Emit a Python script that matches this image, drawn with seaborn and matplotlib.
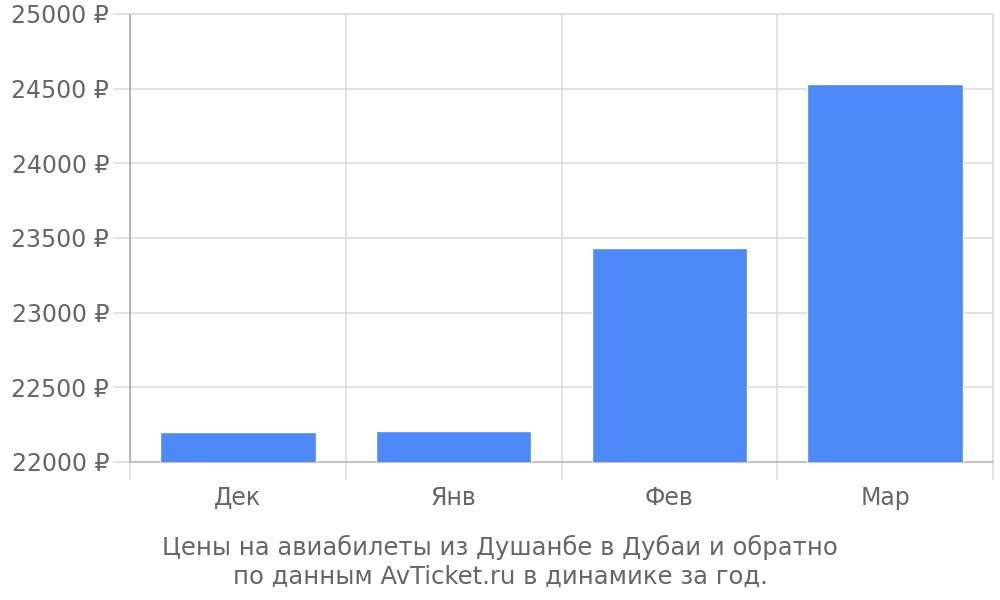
import seaborn as sns
import matplotlib.pyplot as plt
from matplotlib.ticker import FixedLocator

months = ["Дек", "Янв", "Фев", "Мар"]
prices = [22200, 22205, 23430, 24530]
y_ticks = [22000, 22500, 23000, 23500, 24000, 24500, 25000]
caption = "Цены на авиабилеты из Душанбе в Дубаи и обратно\nпо данным AvTicket.ru в динамике за год."

sns.set_style("white")
plt.rcParams["font.family"] = ["DejaVu Sans"]

text_color = "#666666"
grid_color = "#dddddd"

fig = plt.figure(figsize=(10, 6), dpi=100)
ax = fig.add_axes([0.13, 0.23, 0.863, 0.7467])

sns.barplot(x=months, y=prices, color="#4d89f9", saturation=1, width=0.72, ax=ax, zorder=3)

ax.set_ylim(22000, 25000)
ax.set_xlim(-0.5, len(months) - 0.5)
ax.set_yticks(y_ticks)
ax.set_yticklabels([f"{v} ₽" for v in y_ticks])

# category borders as minor ticks + grid (tick lengths in points)
ax.xaxis.set_minor_locator(FixedLocator([i - 0.5 for i in range(len(months) + 1)]))
ax.tick_params(which="both", bottom=True, left=True)
ax.tick_params(axis="x", which="major", length=0, pad=17, labelsize=17, labelcolor=text_color)
ax.tick_params(axis="x", which="minor", direction="out", length=13, width=1.2, color=grid_color)
ax.tick_params(axis="y", which="major", direction="out", length=12.5, width=1.2, color=grid_color,
               pad=2.5, labelsize=17, labelcolor=text_color)
ax.grid(axis="x", which="minor", color=grid_color, linewidth=1.2, zorder=0)
ax.grid(axis="y", which="major", color=grid_color, linewidth=1.2, zorder=0)
ax.set_axisbelow(True)

for side in ["top", "right"]:
    ax.spines[side].set_color(grid_color)
    ax.spines[side].set_linewidth(1.2)
ax.spines["left"].set_color("#aaaaaa")
ax.spines["left"].set_linewidth(1.2)
ax.spines["bottom"].set_color("#bbbbbb")
ax.spines["bottom"].set_linewidth(1.2)

ax.set_xlabel("")
ax.set_ylabel("")

fig.text(0.5, 0.063, caption, ha="center", va="center", fontsize=17.5,
         color=text_color, linespacing=1.25)

fig.savefig("out.png", dpi=100)
